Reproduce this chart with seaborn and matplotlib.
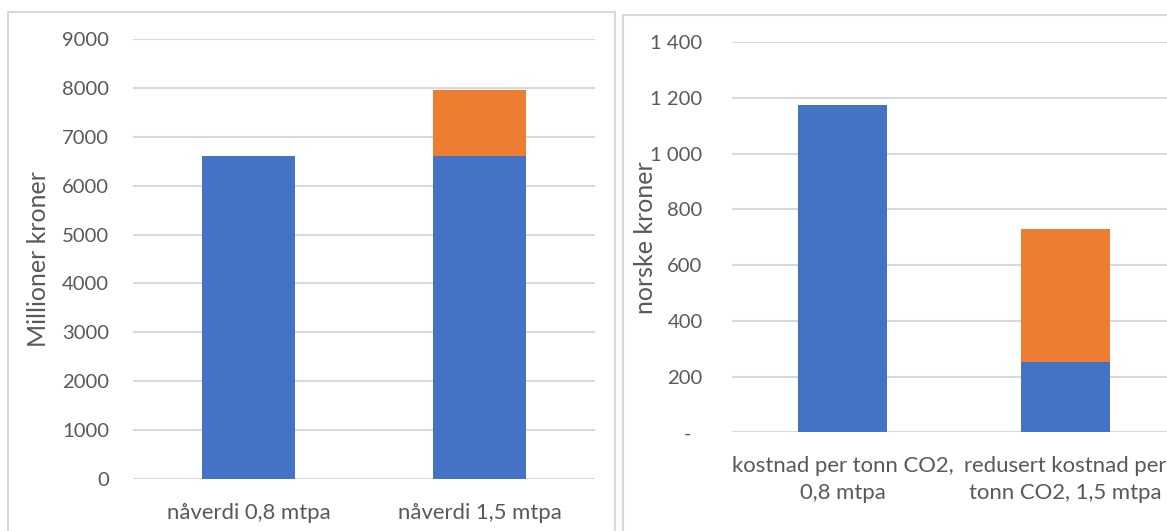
import matplotlib
matplotlib.use("Agg")
import matplotlib.pyplot as plt
import matplotlib.transforms as mtransforms
from matplotlib.patches import Rectangle
import seaborn as sns
import pandas as pd

# Net present value (million NOK)
npv_categories = ["nåverdi 0,8 mtpa", "nåverdi 1,5 mtpa"]
npv_base = [6600, 6600]
npv_extra = [0, 1350]
npv_ticks = [0, 1000, 2000, 3000, 4000, 5000, 6000, 7000, 8000, 9000]
npv_ticklabels = ["0", "1000", "2000", "3000", "4000", "5000", "6000", "7000", "8000", "9000"]

# Cost per tonne CO2 (NOK)
cost_categories = ["kostnad per tonn CO2,\n0,8 mtpa", "redusert kostnad per\ntonn CO2, 1,5 mtpa"]
cost_base = [1176, 253]
cost_extra = [0, 477]
cost_ticks = [0, 200, 400, 600, 800, 1000, 1200, 1400]
cost_ticklabels = ["-", "200", "400", "600", "800", "1 000", "1 200", "1 400"]

BLUE = "#4472C4"
ORANGE = "#ED7D31"
GRID = "#D9D9D9"
TEXT = "#595959"

sns.set_theme(style="white")
plt.rcParams["font.family"] = ["Lato", "DejaVu Sans"]

fig = plt.figure(figsize=(11.67, 5.31), dpi=100)

# panel frames
for (x0, y0, x1, y1) in [(8.3, 12.3, 615.0, 540.0), (623.3, 15.0, 1180.0, 540.0)]:
    fig.patches.append(Rectangle((x0 / 1167, 1 - y1 / 531), (x1 - x0) / 1167, (y1 - y0) / 531,
                                 transform=fig.transFigure, fill=False,
                                 edgecolor=GRID, linewidth=1.5, zorder=0))

ax1 = fig.add_axes([133 / 1167, (531 - 479.3) / 531, 462 / 1167, (479.3 - 38.7) / 531])
ax2 = fig.add_axes([731.6 / 1167, (531 - 432.3) / 531, 444.8 / 1167, (432.3 - 42.3) / 531])


def stacked(ax, cats, base, extra, ticks, ticklabels, ylabel, ypad, label_x):
    df = pd.DataFrame({"cat": cats, "base": base, "extra": extra})
    df["total"] = df["base"] + df["extra"]
    sns.barplot(data=df, x="cat", y="total", color=ORANGE, width=0.4,
                saturation=1, linewidth=0, ax=ax, zorder=2)
    sns.barplot(data=df, x="cat", y="base", color=BLUE, width=0.4,
                saturation=1, linewidth=0, ax=ax, zorder=3)
    ax.set_xlim(-0.5, 1.5)
    ax.set_ylim(0, ticks[-1])
    ax.set_yticks(ticks)
    ax.set_yticklabels(ticklabels)
    ax.yaxis.grid(True, color=GRID, linewidth=1.5)
    ax.set_axisbelow(True)
    for s in ["top", "right", "left", "bottom"]:
        ax.spines[s].set_visible(False)
    ax.tick_params(axis="y", length=0, pad=ypad, labelsize=14.6, labelcolor=TEXT)
    ax.tick_params(axis="x", length=0, pad=17, labelsize=15.9, labelcolor=TEXT)
    ax.set_xlabel("")
    ax.set_ylabel(ylabel, fontsize=18, color=TEXT)
    ax.yaxis.label.set_va("center")
    ax.yaxis.set_label_coords(label_x, 0.5)
    ax.patch.set_alpha(0)


stacked(ax1, npv_categories, npv_base, npv_extra, npv_ticks, npv_ticklabels,
        "Millioner kroner", 17.3, (39 - 133) / 462)
stacked(ax2, cost_categories, cost_base, cost_extra, cost_ticks, cost_ticklabels,
        "norske kroner", 20.9, (645 - 731.6) / 444.8)

for lbl in ax2.get_xticklabels():
    lbl.set_linespacing(1.45)

# the zero label sits a little further left
zero_lbl = ax2.get_yticklabels()[0]
zero_lbl.set_transform(zero_lbl.get_transform() +
                       mtransforms.ScaledTranslation(-11 / 100, 0, fig.dpi_scale_trans))

fig.savefig("out.png", dpi=100)
